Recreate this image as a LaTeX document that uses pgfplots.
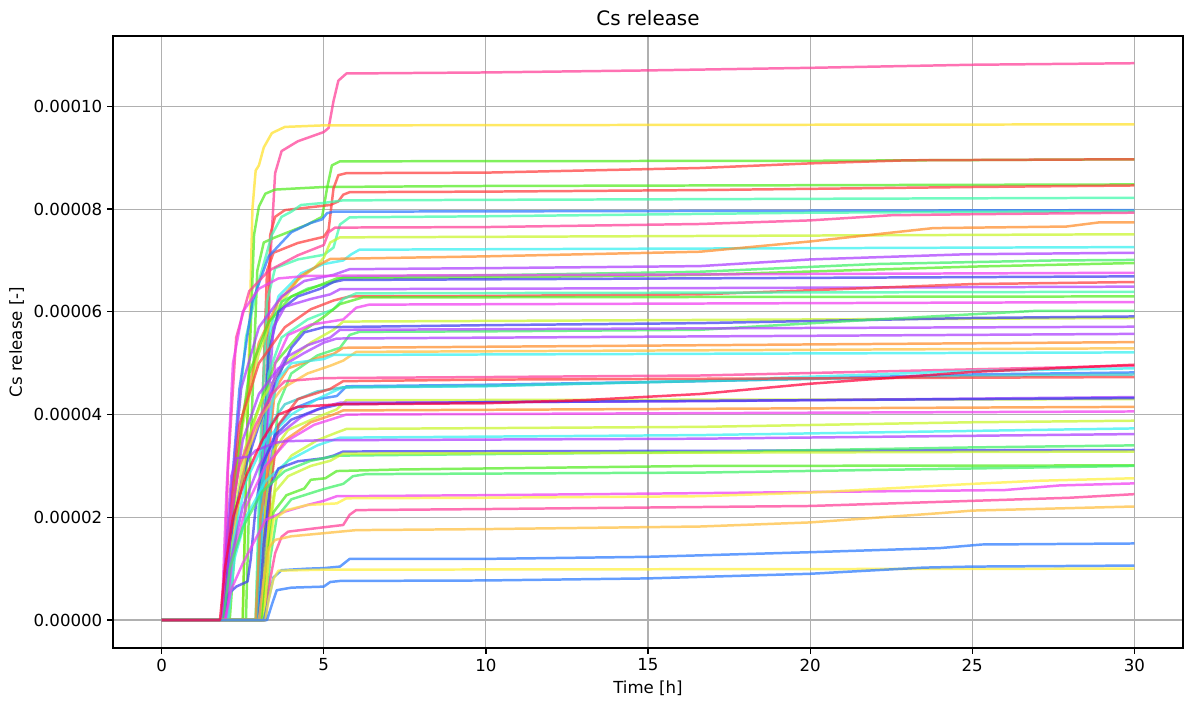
\documentclass[border=0pt]{standalone}
\usepackage{fontspec}
\setmainfont{DejaVu Sans}
\usepackage{pgfplots}
\pgfplotsset{compat=1.18}
\definecolor{gridgray}{RGB}{176,176,176}
\definecolor{cA}{RGB}{255,60,150}
\definecolor{cB}{RGB}{255,225,40}
\definecolor{cC}{RGB}{80,235,30}
\definecolor{cD}{RGB}{255,60,60}
\definecolor{cE}{RGB}{60,250,170}
\definecolor{cF}{RGB}{40,120,255}
\definecolor{cG}{RGB}{50,240,240}
\definecolor{cH}{RGB}{200,245,40}
\definecolor{cI}{RGB}{255,140,40}
\definecolor{cJ}{RGB}{170,60,255}
\definecolor{cK}{RGB}{240,60,240}
\definecolor{cL}{RGB}{60,60,240}
\definecolor{cM}{RGB}{60,240,100}
\definecolor{cN}{RGB}{255,190,60}
\definecolor{cO}{RGB}{50,200,200}
\definecolor{cP}{RGB}{255,0,60}
\definecolor{cQ}{RGB}{255,240,60}
\begin{document}
\begin{tikzpicture}
\begin{axis}[
  name=ax, scale only axis, width=10.70in, height=6.12in,
  xmin=-1.5, xmax=31.5, ymin=-5.45e-6, ymax=113.7e-6,
  y filter/.expression={y*1e-6},
  xtick={0,5,10,15,20,25,30},
  ytick={0,2e-5,4e-5,6e-5,8e-5,1e-4},
  scaled y ticks=false,
  yticklabel style={/pgf/number format/.cd, fixed, fixed zerofill, precision=5},
  /pgf/number format/assume math mode=true,
  tick label style={font=\fontsize{12}{14}\selectfont},
  tick align=outside, tick pos=left, major tick length=4.2pt,
  every tick/.style={black, line width=0.9pt},
  axis line style={black, line width=0.9pt},
  grid=major, major grid style={gridgray, line width=0.8pt},
  xlabel={Time [h]}, ylabel={Cs release [-]},
  label style={font=\fontsize{12}{14}\selectfont},
  title={Cs release}, title style={font=\fontsize{14.4}{17}\selectfont, yshift=-2pt},
  every axis plot/.append style={line width=1.8pt, opacity=0.72, line join=round, no markers},
]
% 1 pink top
\addplot[cA] coordinates {(0,0)(3.05,0)(3.2,30)(3.35,70)(3.5,87)(3.7,91.3)(4.2,93.2)(5.0,95)(5.15,95.8)(5.3,101)(5.45,105)(5.7,106.4)(10,106.6)(15,107)(20,107.5)(25,108.1)(30,108.4)};
% 2 yellow
\addplot[cB] coordinates {(0,0)(2.5,0)(2.65,40)(2.8,80)(2.9,87.5)(3.0,88.5)(3.15,92)(3.4,94.8)(3.8,96)(5,96.3)(30,96.5)};
% 3 green
\addplot[cC] coordinates {(0,0)(2.5,0)(2.65,40)(2.85,75)(3.0,80.5)(3.2,83)(3.5,83.8)(5,84.3)(10,84.5)(30,84.8)};
% 4 green
\addplot[cC] coordinates {(0,0)(2.6,0)(2.75,35)(2.95,68)(3.15,73.5)(3.5,74.5)(4.5,77)(4.95,78.5)(5.1,84)(5.25,88.5)(5.5,89.3)(20,89.4)(30,89.7)};
% 5 red
\addplot[cD] coordinates {(0,0)(2.95,0)(3.1,40)(3.25,68)(3.45,71.5)(4.2,73.4)(5.0,74.6)(5.15,76)(5.3,84)(5.45,86.6)(5.7,87.0)(10,87.1)(16.6,88)(20,88.9)(23,89.5)(30,89.7)};
% 6 red
\addplot[cD] coordinates {(0,0)(3.1,0)(3.2,40)(3.35,75)(3.5,78.5)(3.8,79.8)(5.2,80.8)(5.45,81.5)(5.6,82.8)(5.8,83.3)(10,83.4)(16.6,83.7)(25,84.3)(30,84.6)};
% 7 aquamarine
\addplot[cE] coordinates {(0,0)(2.05,0)(2.3,35)(2.6,55)(3.0,66)(3.4,75)(3.7,78.5)(4.0,79.5)(4.3,80.8)(5.0,81.2)(5.6,81.7)(10,81.8)(30,82.2)};
% 8 blue
\addplot[cF] coordinates {(0,0)(1.95,0)(2.15,25)(2.4,45)(2.8,62)(3.3,70.8)(4.0,75.5)(4.6,77.3)(4.95,78)(5.1,79.2)(5.3,79.5)(30,79.8)};
% 9 aquamarine
\addplot[cE] coordinates {(0,0)(2.9,0)(3.05,35)(3.25,62)(3.5,68.5)(4.2,70.2)(5.0,71.1)(5.3,72.5)(5.5,77)(5.8,78.4)(10,78.6)(20,79.3)(30,79.6)};
% 10 pink
\addplot[cA] coordinates {(0,0)(1.9,0)(2.05,30)(2.3,55)(2.7,64)(3.3,68)(4.2,71)(5.0,73)(5.15,75.5)(5.35,76.4)(10,76.5)(16.6,77.1)(20,77.8)(22.5,78.8)(25,79.0)(30,79.3)};
% 11 yellow-green
\addplot[cH] coordinates {(0,0)(2.0,0)(2.2,20)(2.5,38)(3.0,52)(3.5,60)(4.2,66.2)(4.7,68.5)(5.0,70.5)(5.2,73.5)(5.5,74.5)(10,74.6)(30,75.1)};
% 12 cyan
\addplot[cG] coordinates {(0,0)(2.95,0)(3.1,30)(3.3,55)(3.6,63)(4.3,67.5)(5.0,69.3)(5.6,70)(5.85,71.2)(6.1,72.1)(30,72.6)};
% 13 orange
\addplot[cI] coordinates {(0,0)(2.0,0)(2.2,22)(2.5,40)(3.0,54)(3.6,62)(4.3,67)(4.9,69.3)(5.2,70.3)(10,70.8)(16.6,71.7)(20,73.7)(23.8,76.3)(27.9,76.6)(28.9,77.4)(30,77.4)};
% 14 purple
\addplot[cJ] coordinates {(0,0)(1.95,0)(2.15,25)(2.45,45)(3.0,57)(3.7,63)(4.4,66)(5.3,67.2)(5.8,68.3)(10,68.5)(16.6,68.9)(20,70.2)(24.8,71.2)(30,71.5)};
% 15 green
\addplot[cM] coordinates {(0,0)(3.0,0)(3.15,30)(3.35,55)(3.7,62)(4.5,64.5)(5.3,65.8)(5.6,66.8)(10,67.1)(16.6,67.8)(22,69.3)(27.5,70.0)(30,70.1)};
% 16 green
\addplot[cC] coordinates {(0,0)(2.05,0)(2.3,30)(2.7,48)(3.3,58)(4.0,63)(5.0,65.5)(5.4,66.5)(10,66.7)(16.6,67.2)(25,68.8)(30,69.5)};
% 17 magenta
\addplot[cK] coordinates {(0,0)(1.85,0)(2.0,25)(2.2,50)(2.5,60)(3.0,64.5)(3.6,66.5)(4.5,67)(30,67.6)};
% 18 blue
\addplot[cL] coordinates {(0,0)(2.95,0)(3.1,30)(3.3,52)(3.6,60)(4.2,63)(4.9,64.5)(5.3,65.8)(5.6,66.2)(30,66.9)};
% 19 purple
\addplot[cJ] coordinates {(0,0)(3.05,0)(3.2,35)(3.45,57)(3.8,61)(4.6,62.5)(5.2,63.4)(5.5,64.4)(30,64.9)};
% 20 red
\addplot[cD] coordinates {(0,0)(1.9,0)(2.1,20)(2.4,38)(3.0,50)(3.8,57)(4.6,60.5)(5.3,62.2)(5.8,63)(10,63.1)(16.6,63.4)(20,64.2)(25,65.4)(30,65.8)};
% 21 aquamarine
\addplot[cE] coordinates {(0,0)(2.9,0)(3.05,25)(3.3,48)(3.7,55)(4.5,58.5)(5.3,60.5)(5.6,62.5)(6.0,63.6)(30,63.9)};
% 22 green
\addplot[cC] coordinates {(0,0)(2.1,0)(2.35,22)(2.8,38)(3.5,50)(4.3,56)(5.0,59)(5.5,61.5)(6.2,62.8)(30,63.0)};
% 23 magenta
\addplot[cK] coordinates {(0,0)(3.15,0)(3.3,30)(3.5,50)(3.9,55.5)(4.6,57.5)(5.6,58.5)(6.0,60.8)(6.4,61.4)(30,61.9)};
% 24 yellow-green
\addplot[cH] coordinates {(0,0)(2.0,0)(2.2,18)(2.55,33)(3.1,43)(3.8,50)(4.6,54)(5.3,56.5)(5.6,58.1)(30,58.8)};
% 25 dark blue
\addplot[cL] coordinates {(0,0)(1.9,0)(2.1,15)(2.5,28)(3.0,38)(3.5,46)(4.0,53)(4.4,56)(5.0,57)(10,57.4)(16.6,57.8)(25,58.8)(30,59.1)};
% 26 green teal
\addplot[cM] coordinates {(0,0)(3.2,0)(3.35,25)(3.6,42)(4.0,48)(4.8,51.5)(5.5,53)(5.8,55.5)(6.1,56.1)(10,56.2)(16.6,56.5)(22,58.5)(27,60.2)(30,60.2)};
% 27 purple
\addplot[cJ] coordinates {(0,0)(3.0,0)(3.15,30)(3.4,46)(3.8,51)(4.5,53.5)(5.2,55)(5.5,56.5)(30,57.1)};
% 28 purple
\addplot[cJ] coordinates {(0,0)(1.95,0)(2.15,20)(2.5,35)(3.0,44)(3.6,49)(4.4,52)(5.0,54)(5.4,54.8)(30,55.7)};
% 29 orange
\addplot[cI] coordinates {(0,0)(3.1,0)(3.25,30)(3.5,45)(3.9,49)(4.8,51)(5.3,51.8)(5.6,53)(30,54.1)};
% 30 orange-yellow
\addplot[cN] coordinates {(0,0)(2.05,0)(2.25,18)(2.6,32)(3.1,40)(3.7,45)(4.5,48)(5.2,49.5)(5.6,50.5)(6.0,52.2)(30,52.9)};
% 31 cyan
\addplot[cG] coordinates {(0,0)(3.0,0)(3.15,28)(3.4,42)(3.6,47)(4.0,50)(5.0,50.8)(5.3,51.6)(30,52.1)};
% 32 pink
\addplot[cA] coordinates {(0,0)(1.85,0)(2.05,18)(2.4,30)(2.9,38)(3.4,44)(3.8,46.5)(5,47.1)(10,47.3)(16.6,47.6)(25,48.8)(30,49.5)};
% 33 blue
\addplot[cF] coordinates {(0,0)(3.1,0)(3.25,25)(3.5,37)(4.0,41)(4.8,43)(5.4,43.6)(5.7,45.5)(10,45.8)(16.6,46.5)(25,47.8)(30,48.2)};
% 34 cyan-blue
\addplot[cG] coordinates {(0,0)(2.0,0)(2.2,15)(2.6,27)(3.2,35)(4.0,40)(4.8,43)(5.3,44.5)(5.6,45.3)(10,45.5)(16.6,46.6)(25,48.5)(30,49.0)};
% 35 teal
\addplot[cO] coordinates {(0,0)(2.95,0)(3.1,25)(3.35,38)(3.8,42)(4.8,44.5)(5.6,45.3)(10,45.6)(16.6,46.5)(25,47.5)(30,47.8)};
% 37 red-orange
\addplot[cD] coordinates {(0,0)(3.2,0)(3.35,25)(3.6,38)(4.2,43)(5.2,45)(5.6,46.5)(10,46.8)(30,47.3)};
% 38 green-yellow
\addplot[cH] coordinates {(0,0)(3.05,0)(3.2,22)(3.45,33)(3.9,37)(4.8,39.5)(5.4,41)(5.7,42.8)(30,43.0)};
% 39 purple
\addplot[cJ] coordinates {(0,0)(1.95,0)(2.15,12)(2.5,22)(3.0,30)(3.6,36)(4.3,39.5)(5.0,41.5)(5.5,42.3)(16.6,42.6)(30,43.4)};
% 40 blue
\addplot[cL] coordinates {(0,0)(1.9,0)(2.05,5)(2.3,6.5)(2.65,7.5)(2.75,12)(2.9,22)(3.1,30)(3.5,36)(4.0,39)(4.8,41)(5.5,42)(10,42.4)(30,43.2)};
% 41 orange
\addplot[cI] coordinates {(0,0)(2.9,0)(3.05,20)(3.3,30)(3.8,35)(4.6,38.5)(5.3,40)(5.6,40.8)(30,41.5)};
% 42 magenta
\addplot[cK] coordinates {(0,0)(2.0,0)(2.2,12)(2.6,22)(3.2,30)(3.9,35)(4.7,38)(5.3,39.2)(5.7,40)(30,40.6)};
% 43 green-yellow
\addplot[cH] coordinates {(0,0)(3.15,0)(3.3,18)(3.55,28)(4.0,32)(4.8,35)(5.4,36.5)(5.7,37.2)(16.6,37.6)(25,38.5)(30,38.8)};
% 44 cyan
\addplot[cG] coordinates {(0,0)(2.05,0)(2.25,12)(2.6,20)(3.2,27)(3.9,31)(4.8,34)(5.5,35.5)(16.6,36)(30,37.3)};
% 45 purple
\addplot[cJ] coordinates {(0,0)(1.85,0)(2.0,15)(2.15,28)(2.3,31.5)(2.7,31.8)(2.9,33)(3.5,34.5)(3.8,34.8)(5,35)(16.6,35.3)(30,36.2)};
% 46 blue
\addplot[cL] coordinates {(0,0)(3.0,0)(3.15,15)(3.35,26)(3.6,29.5)(4.2,30.9)(5.0,31.5)(5.3,32)(5.6,32.8)(30,33.1)};
% 47 green-teal
\addplot[cM] coordinates {(0,0)(1.9,0)(2.1,10)(2.5,18)(3.1,25)(3.8,29)(4.6,31)(5.4,32)(10,32.3)(16.6,32.7)(25,33.6)(30,34.0)};
% 48 yellow-green
\addplot[cH] coordinates {(0,0)(3.1,0)(3.25,15)(3.5,25)(3.9,28)(4.6,30)(5.2,31)(5.6,32.4)(30,32.8)};
% 49 green
\addplot[cC] coordinates {(0,0)(3.1,0)(3.25,12)(3.45,21)(3.85,24.3)(4.4,25.6)(4.6,27.3)(5.05,27.6)(5.4,29.0)(7.3,29.3)(16.6,30.0)(30,30.1)};
% 50 green
\addplot[cM] coordinates {(0,0)(3.2,0)(3.35,12)(3.55,20)(4.0,23.5)(5.0,25.5)(5.6,26.5)(5.9,28)(6.3,28.4)(16.6,28.7)(25,29.5)(30,30.0)};
% 51 magenta
\addplot[cK] coordinates {(0,0)(1.95,0)(2.15,6)(2.5,11)(3.0,17)(3.2,19.5)(3.8,21.1)(4.5,22.4)(5.0,23.2)(5.4,24.1)(10,24.3)(16.6,24.7)(26,25.3)(27.7,26.2)(30,26.6)};
% 52 yellow
\addplot[cQ] coordinates {(0,0)(3.15,0)(3.3,12)(3.45,19.5)(3.85,21.4)(4.5,22.4)(5.4,22.7)(5.7,23.7)(10,23.8)(16.6,24.1)(20,24.8)(25,26.5)(27,27.1)(30,27.6)};
% 53 pink
\addplot[cA] coordinates {(0,0)(3.2,0)(3.35,8)(3.5,13)(3.7,16.2)(3.9,17.2)(4.8,17.9)(5.6,18.5)(5.8,20.5)(6.0,21.4)(10,21.6)(20,22.2)(25,23.2)(28,23.8)(30,24.5)};
% 54 orange-yellow
\addplot[cN] coordinates {(0,0)(3.0,0)(3.15,8)(3.3,14)(3.5,15.6)(4.0,16.3)(6,17.5)(10,17.7)(16.6,18.2)(20,19)(24,20.8)(25,21.3)(30,22.1)};
% 55 blue
\addplot[cF] coordinates {(0,0)(3.15,0)(3.3,4)(3.45,8.3)(3.7,9.7)(4.5,10)(5.0,10.1)(5.5,10.4)(5.8,11.9)(10,11.9)(15,12.3)(20,13.2)(24,14)(25.3,14.7)(30,14.9)};
% 56 yellow
\addplot[cQ] coordinates {(0,0)(3.2,0)(3.3,4)(3.45,8)(3.6,9.6)(5,9.8)(30,10.0)};
% 57 blue
\addplot[cF] coordinates {(0,0)(3.25,0)(3.4,3)(3.55,5.8)(4,6.3)(5.0,6.5)(5.2,7.4)(5.5,7.6)(10,7.7)(15,8.1)(20,9.0)(23.5,10.2)(25,10.4)(30,10.6)};
% 36 crimson (drawn last)
\addplot[cP] coordinates {(0,0)(1.8,0)(1.95,10)(2.2,20)(2.6,28)(3.1,35)(3.6,40)(4.2,41.5)(5.5,42)(10,42.2)(13,42.8)(16.6,44)(20,46)(25,48.3)(30,49.7)};
\end{axis}
\pgfresetboundingbox
\path ([shift={(-1.13in,-0.54in)}]ax.south west) rectangle ([shift={(0.01in,0.36in)}]ax.north east);
\end{tikzpicture}
\end{document}
